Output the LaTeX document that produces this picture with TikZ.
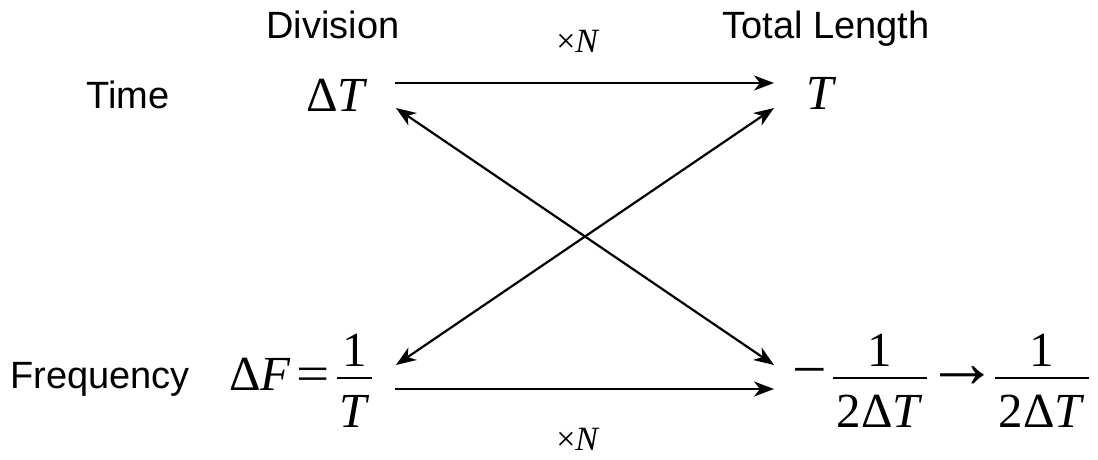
\documentclass[tikz,border=0pt]{standalone}
\usepackage{fontspec}
\setmainfont{Liberation Serif}
\newfontfamily\arial{Liberation Sans}
\usetikzlibrary{arrows.meta}
\begin{document}
\begin{tikzpicture}[x=1pt,y=-1pt,
  lab/.style={font=\arial\fontsize{38}{40}\selectfont, inner sep=0pt, anchor=base},
  mth/.style={font=\fontsize{49}{52}\selectfont, inner sep=0pt, anchor=base},
  sml/.style={font=\fontsize{34}{38}\selectfont, inner sep=0pt, anchor=base},
  bar/.style={line width=2pt},
  tip/.tip={Stealth[length=20pt,width=15pt,inset=6pt]},
  arr/.style={line width=2.2pt, -tip},
  darr/.style={line width=2.2pt, tip-tip}]
\useasboundingbox (0,0) rectangle (1098,459);
% labels
\node[lab] (div) at (333,38) {Division};
\node[lab] (tot) at (826,38) {Total Length};
\node[lab] (time) at (128,108) {Time};
\node[lab] (freq) at (100,388) {Frequency};
\node[sml] (xn1) at (578,52) {×\textit{N}};
\node[sml] (xn2) at (578,450) {×\textit{N}};
% time row
\node[mth] (dT) at (337,111) {Δ\textit{T}};
\node[mth] (T) at (822,109) {\textit{T}};
% frequency row, left
\node[mth, anchor=base west] (dF) at (229,390) {Δ\textit{F}};
\node[mth] (eq) at (313,390) {\scalebox{1.2}[1]{=}};
\node[mth] (n1) at (355,366) {1};
\node[mth] (d1) at (355,427) {\textit{T}};
\coordinate (b1l) at (337,378); \coordinate (b1r) at (372,378);
\draw[bar] (b1l) -- (b1r);
% frequency row, right
\node[mth, anchor=center] (minus) at (810,378) {\scalebox{1.25}[1.15]{−}};
\node[mth] (n2) at (880,366) {1};
\node[mth] (d2) at (880,427) {2Δ\textit{T}};
\coordinate (b2l) at (833,378); \coordinate (b2r) at (927,378);
\draw[bar] (b2l) -- (b2r);
\node[mth, anchor=center] (to) at (962,377) {\scalebox{1.5}{→}};
\node[mth] (n3) at (1042,366) {1};
\node[mth] (d3) at (1042,427) {2Δ\textit{T}};
\coordinate (b3l) at (995,378); \coordinate (b3r) at (1089,378);
\draw[bar] (b3l) -- (b3r);
% connectors
\coordinate (dTr) at (395,83);
\coordinate (Tl) at (774,83);
\coordinate (dTd) at (396,108);
\coordinate (Td) at (774,108);
\coordinate (dFu) at (396,365);
\coordinate (rhsu) at (774,365);
\coordinate (dFr) at (395,389);
\coordinate (rhsl) at (774,389);
\draw[arr] (dTr) -- (Tl);
\draw[arr] (dFr) -- (rhsl);
\draw[darr] (dTd) -- (rhsu);
\draw[darr] (dFu) -- (Td);
\end{tikzpicture}
\end{document}
